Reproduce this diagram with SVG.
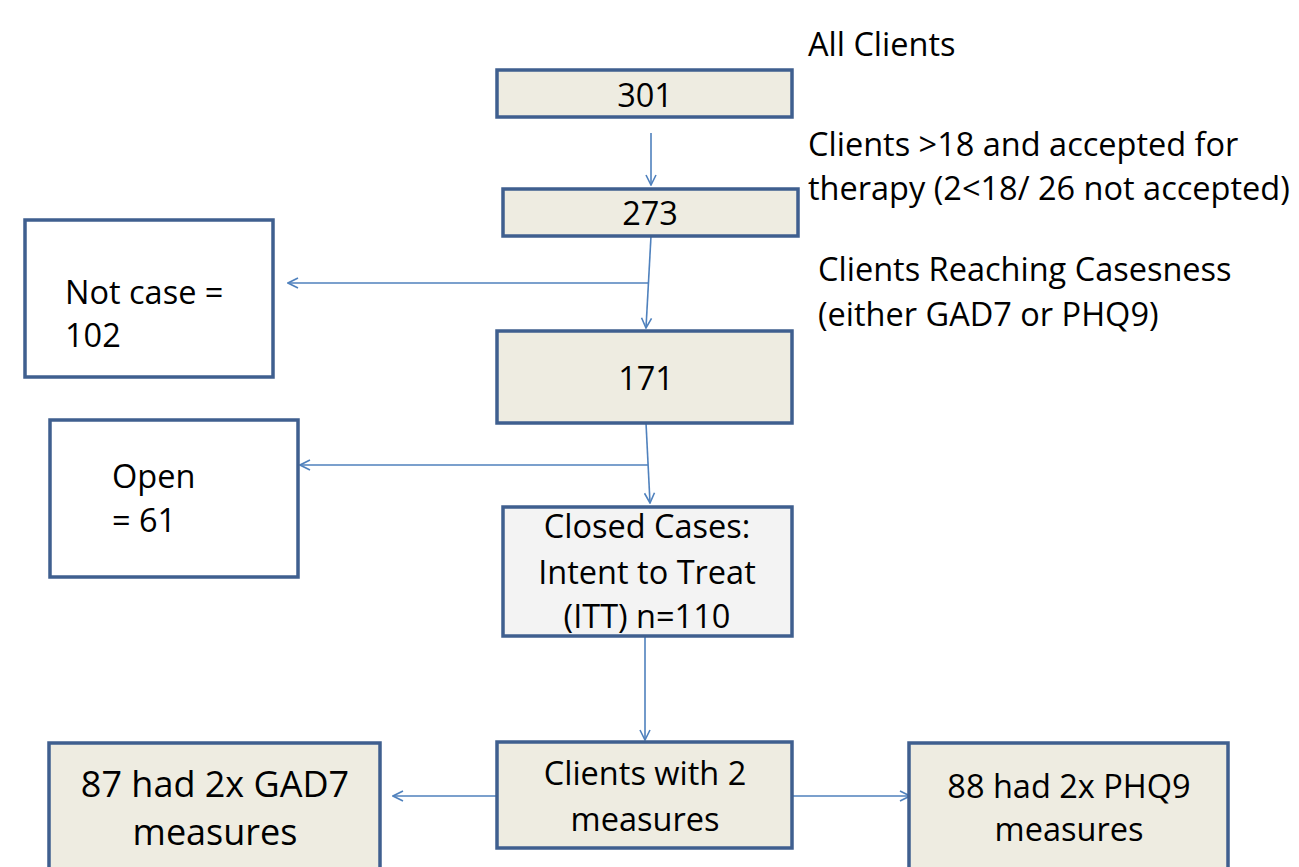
<svg xmlns="http://www.w3.org/2000/svg" width="1299" height="867" viewBox="0 0 1299 867">
<style>
.box{stroke:#3F5F8F;stroke-width:3.5}
.tan{fill:#EEECE1}
.wht{fill:#FFFFFF}
.gry{fill:#F3F3F3}
text{font-family:"Open Sans","Liberation Sans",sans-serif;font-size:32.5px;fill:#000}
.c{text-anchor:middle}
.big{font-size:36px}
.con line,.con path{stroke:#4F81BD;stroke-width:1.6;fill:none}
</style>
<defs>
<marker id="ah" viewBox="0 0 12 12" refX="11" refY="6" markerWidth="12" markerHeight="12" markerUnits="userSpaceOnUse" orient="auto">
<path d="M1,1 L11,6 L1,11" fill="none" stroke="#4F81BD" stroke-width="1.6"/>
</marker>
</defs>
<rect width="1299" height="867" fill="#fff"/>
<g class="con">
<line x1="651" y1="133" x2="651" y2="185" marker-end="url(#ah)"/>
<line x1="651" y1="236" x2="646" y2="328" marker-end="url(#ah)"/>
<line x1="648" y1="283" x2="288" y2="283" marker-end="url(#ah)"/>
<line x1="646" y1="423" x2="650" y2="503" marker-end="url(#ah)"/>
<line x1="648" y1="465" x2="300" y2="465" marker-end="url(#ah)"/>
<line x1="645" y1="637" x2="645" y2="740" marker-end="url(#ah)"/>
<line x1="497" y1="796" x2="393" y2="796" marker-end="url(#ah)"/>
<line x1="792" y1="796" x2="910" y2="796" marker-end="url(#ah)"/>
</g>
<g id="label-all"><text x="808" y="56">All Clients</text></g>
<g id="n301"><rect class="box tan" x="497" y="70" width="295" height="47"/><text class="c" x="645" y="107">301</text></g>
<g id="label-accepted"><text x="808" y="156">Clients &gt;18 and accepted for</text><text x="808" y="200">therapy (2&lt;18/ 26 not accepted)</text></g>
<g id="n273"><rect class="box tan" x="503" y="189" width="295" height="47"/><text class="c" x="650" y="225">273</text></g>
<g id="label-caseness"><text x="818" y="281">Clients Reaching Casesness</text><text x="818" y="326">(either GAD7 or PHQ9)</text></g>
<g id="notcase"><rect class="box wht" x="25" y="220" width="248" height="157"/><text x="65" y="304">Not case =</text><text x="65" y="347">102</text></g>
<g id="n171"><rect class="box tan" x="497" y="331" width="295" height="92"/><text class="c" x="646" y="390">171</text></g>
<g id="open"><rect class="box wht" x="50" y="420" width="248" height="157"/><text x="112" y="488">Open</text><text x="112" y="532">= 61</text></g>
<g id="closed"><rect class="box gry" x="503" y="507" width="289" height="129"/><text class="c" x="647" y="538">Closed Cases:</text><text class="c" x="647" y="584">Intent to Treat</text><text class="c" x="647" y="628">(ITT) n=110</text></g>
<g id="two"><rect class="box tan" x="497" y="742" width="295" height="106"/><text class="c" x="645" y="785">Clients with 2</text><text class="c" x="645" y="831">measures</text></g>
<g id="gad7"><rect class="box tan" x="49" y="743" width="331" height="140"/><text class="c big" x="215" y="797">87 had 2x GAD7</text><text class="c big" x="215" y="845">measures</text></g>
<g id="phq9"><rect class="box tan" x="909" y="743" width="319" height="140"/><text class="c" x="1069" y="798">88 had 2x PHQ9</text><text class="c" x="1069" y="841">measures</text></g>
</svg>
